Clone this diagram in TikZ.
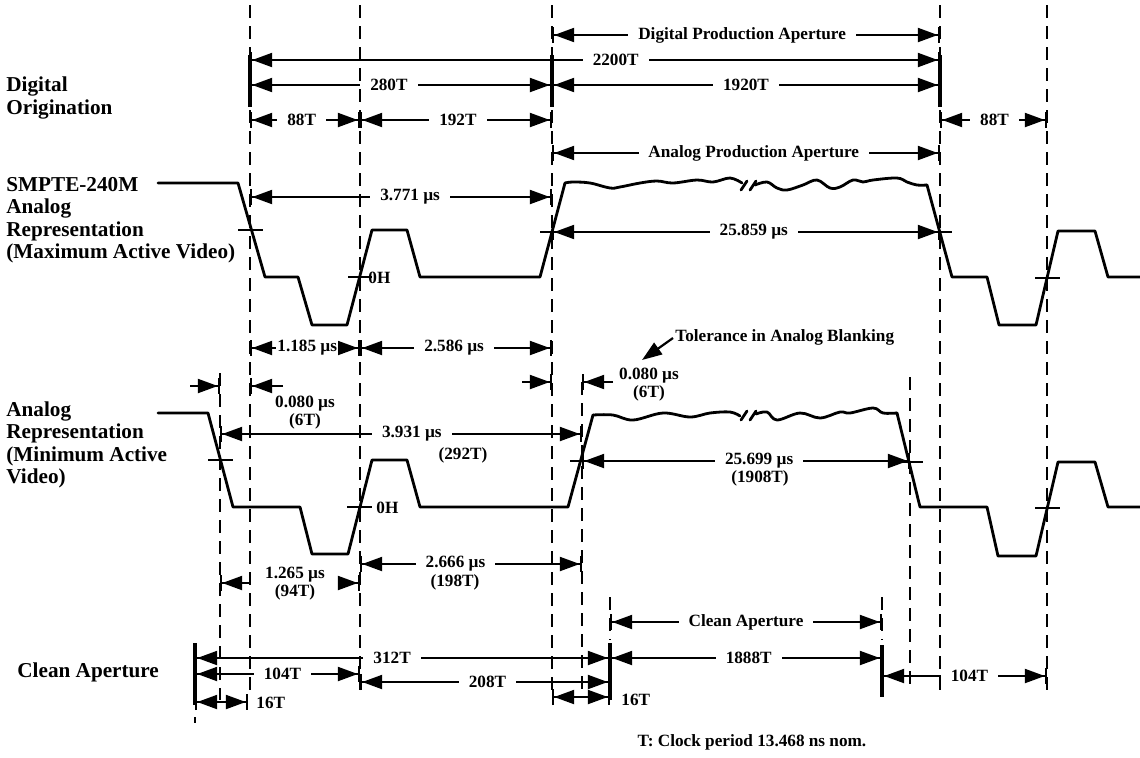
\documentclass[tikz,border=0pt]{standalone}
\usepackage{fontspec}
\setmainfont{Liberation Serif}
\usepackage{tikz}
\usetikzlibrary{arrows.meta}
\definecolor{Tinta}{RGB}{0, 0, 0}

\tikzset{
    txt/.style={font=\fontsize{8.6}{9}\selectfont\bfseries, text=Tinta, inner sep=0pt},
    rot/.style={txt, fill=white, inner xsep=5pt, inner ysep=1pt},
    lado/.style={font=\fontsize{10.6}{11.25}\selectfont\bfseries, align=left, anchor=west, inner sep=0pt},
    cota/.style={draw=Tinta, line width=1.1pt, {Bar[width=8pt,sep=0pt]Triangle[length=10pt,width=7pt,sep=0pt]}-{Triangle[length=10pt,width=7pt,sep=0pt]Bar[width=8pt]}},
    media/.style={draw=Tinta, line width=1.1pt, -{Triangle[length=10pt,width=7pt,sep=0pt]Bar[width=8pt]}},
    flecha/.style={draw=Tinta, line width=1.1pt, -{Triangle[length=10pt,width=7pt]}},
    guia/.style={draw=Tinta, line width=1.35pt, dash pattern=on 6.5pt off 4pt},
    tope/.style={draw=Tinta, line width=1.9pt},
    onda/.style={draw=Tinta, line width=1.4pt, line join=round, line cap=round},
    marca/.style={draw=Tinta, line width=1.1pt}
}

\begin{document}
\begin{tikzpicture}[x=0.5pt,y=-0.5pt]
            \useasboundingbox (0,0) rectangle (1140,757);
            %Etiquetas
            \node[lado] at (6,98) {Digital\\Origination};
            \node[lado] at (6,220) {SMPTE-240M\\Analog\\Representation\\(Maximum Active Video)};
            \node[lado] at (6,445) {Analog\\Representation\\(Minimum Active\\Video)};
            \node[lado] at (17,672) {Clean Aperture};
            %Cotas digitales
            \draw[cota] (552,35) -- node[rot,pos=0.49]{Digital Production Aperture} (940,35);
            \draw[cota] (250,60) -- node[rot,pos=0.53]{2200T} (940,60);
            \draw[cota] (250,85) -- node[rot,pos=0.46]{280T} (552,85);
            \draw[cota] (552,85) -- node[rot,pos=0.5]{1920T} (940,85);
            \draw[cota] (250,120) -- node[rot,pos=0.47]{88T} (360,120);
            \draw[cota] (360,120) -- node[rot,pos=0.51]{192T} (552,120);
            \draw[cota] (940,120) -- node[rot,pos=0.51]{88T} (1047,120);
            %Cotas analogicas (maximo)
            \draw[cota] (552,153) -- node[rot,pos=0.52]{Analog Production Aperture} (940,153);
            \draw[cota] (250,197) -- node[rot,pos=0.53]{3.771 µs} (552,197);
            \draw[cota] (552,232) -- node[rot,pos=0.52]{25.859 µs} (940,232);
            \draw[cota] (250,348) -- node[rot,inner xsep=0.5pt,pos=0.52]{1.185 µs} (360,348);
            \draw[cota] (360,348) -- node[rot,pos=0.49]{2.586 µs} (552,348);
            %Cotas analogicas (minimo)
            \draw[media] (190,386) -- (220,386);
            \draw[media] (283,386) -- (250,386);
            \node[txt,align=center] at (305,413) {0.080 µs\\(6T)};
            \draw[cota] (220,434) -- node[rot,pos=0.53]{3.931 µs} (582,434);
            \node[txt] at (463,455) {(292T)};
            \draw[media] (522,382) -- (552,382);
            \draw[media] (613,382) -- (582,382);
            \node[txt,align=center] at (649,385) {0.080 µs\\(6T)};
            \draw[flecha] (673,338) -- (642,360);
            \node[txt,anchor=west] at (675,337) {Tolerance in Analog Blanking};
            \draw[cota] (582,461) -- node[rot,pos=0.54]{25.699 µs} (910,461);
            \node[txt] at (760,478) {(1908T)};
            \draw[media] (250,583) -- (220,583);
            \draw[media] (343,583) -- (360,583);
            \node[txt,align=center] at (295,584) {1.265 µs\\(94T)};
            \draw[cota] (360,564) -- node[rot,pos=0.43]{2.666 µs} (582,564);
            \node[txt] at (455,582) {(198T)};
            %Apertura limpia
            \draw[cota] (610,622) -- node[rot,pos=0.5]{Clean Aperture} (882,622);
            \draw[cota] (195,658) -- node[rot,pos=0.475]{312T} (610,658);
            \draw[cota] (610,658) -- node[rot,pos=0.51]{1888T} (882,658);
            \draw[cota] (195,674) -- node[rot,pos=0.53]{104T} (360,674);
            \draw[cota] (360,682) -- node[rot,pos=0.51]{208T} (610,682);
            \draw[cota] (195,702) -- (248,702);
            \node[txt,anchor=west] at (256,703) {16T};
            \draw[cota] (552,697) -- (610,697);
            \node[txt,anchor=west] at (621,700) {16T};
            \draw[cota] (882,676) -- node[rot,pos=0.53]{104T} (1047,676);
            \node[txt] at (752,742) {T: Clock period 13.468 ns nom.};
            %Lineas guia
            \draw[guia] (250,5) -- (250,695);
            \draw[guia] (360,5) -- (360,695);
            \draw[guia] (552,5) -- (552,692);
            \draw[guia] (940,5) -- (940,692);
            \draw[guia] (1047,5) -- (1047,692);
            \draw[guia] (220,373) -- (220,700);
            \draw[guia] (582,382) -- (582,692);
            \draw[guia] (910,377) -- (910,688);
            \draw[guia] (610,597) -- (610,640);
            \draw[guia] (882,597) -- (882,640);
            \draw[guia] (195,717) -- (195,723);
            \draw[tope] (250,55) -- (250,107);
            \draw[tope] (552,55) -- (552,107);
            \draw[tope] (940,55) -- (940,107);
            \draw[tope] (195,643) -- (195,705);
            \draw[tope] (610,643) -- (610,700);
            \draw[tope] (882,645) -- (882,697);
            %Senal SMPTE-240M
            \draw[onda] (158,183) -- (238,183) -- (265,277) -- (298,277) -- (312,325) -- (347,325) -- (372,230) -- (407,230) -- (420,277) -- (540,277) -- (565,183);
            \draw[onda] plot[smooth,tension=0.6] coordinates {(565,183) (573,182) (590,183) (610,188) (620,187) (640,183) (657,181) (673,183) (697,180) (713,182) (730,178) (742,183)};
            \draw[onda] (741,190) -- (747,181);
            \draw[onda] (750,190) -- (756,181);
            \draw[onda] plot[smooth,tension=0.6] coordinates {(755,185) (767,182) (777,188) (787,190) (803,185) (817,180) (830,188) (840,187) (853,180) (863,182) (873,180) (897,178) (907,182) (917,185) (927,185)};
            \draw[onda] (927,185) -- (952,277) -- (987,277) -- (999,325) -- (1036,325) -- (1058,231) -- (1095,231) -- (1108,277) -- (1140,277);
            \draw[marca] (238,230) -- (263,230);
            \draw[marca] (348,277) -- (372,277);
            \draw[marca] (540,232) -- (562,232);
            \draw[marca] (928,232) -- (952,232);
            \draw[marca] (1035,278) -- (1060,278);
            \node[txt,anchor=west] at (368,278) {0H};
            %Senal minima
            \draw[onda] (158,413) -- (208,413) -- (233,507) -- (300,507) -- (312,554) -- (348,554) -- (372,460) -- (407,460) -- (420,507) -- (568,507) -- (593,415);
            \draw[onda] plot[smooth,tension=0.6] coordinates {(593,415) (613,415) (633,420) (663,413) (690,417) (710,413) (730,412) (740,416)};
            \draw[onda] (741,420) -- (747,411);
            \draw[onda] (750,420) -- (756,411);
            \draw[onda] plot[smooth,tension=0.6] coordinates {(756,414) (767,412) (777,420) (800,413) (820,418) (840,412) (850,413) (873,408) (883,413) (897,413)};
            \draw[onda] (897,413) -- (920,507) -- (987,507) -- (998,556) -- (1036,556) -- (1058,462) -- (1095,462) -- (1108,507) -- (1140,507);
            \draw[marca] (208,460) -- (233,460);
            \draw[marca] (347,507) -- (372,507);
            \draw[marca] (570,461) -- (595,461);
            \draw[marca] (897,462) -- (923,462);
            \draw[marca] (1035,508) -- (1060,508);
            \node[txt,anchor=west] at (376,508) {0H};
        \end{tikzpicture}
\end{document}
